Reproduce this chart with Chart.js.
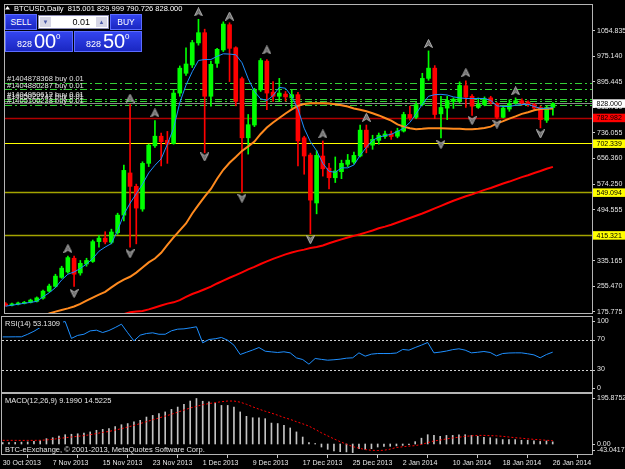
<!DOCTYPE html>
<html>
<head>
<meta charset="utf-8">
<title>BTCUSD,Daily</title>
<script src="https://cdn.jsdelivr.net/npm/chart.js@4.4.1/dist/chart.umd.min.js"></script>
<style>
  html, body { margin: 0; padding: 0; background: #000; }
  body { width: 625px; height: 469px; overflow: hidden; position: relative; font-family: "Liberation Sans", Arial, sans-serif; }
  canvas { position: absolute; left: 0; top: 0; }
  .azul { position: absolute; box-sizing: border-box; color: #fff; background: linear-gradient(#3344ee, #1a27c2); border: 1px solid #5b6cff; }
  #vender, #comprar { top: 14px; width: 32px; height: 16px; font-size: 8.5px; line-height: 14px; text-align: center; }
  #vender { left: 5px; }
  #comprar { left: 110px; }
  #lote { position: absolute; left: 38px; top: 15px; width: 71px; height: 14px; box-sizing: border-box; background: #fff; border: 1px solid #8c8cb4; }
  #lote .seta { position: absolute; top: 1px; width: 11px; height: 10px; background: #d6d6e6; color: #4a5aa8; font-size: 6px; line-height: 10px; text-align: center; }
  #lote .valor { position: absolute; right: 18px; top: 0; font-size: 9px; line-height: 12px; color: #000; }
  .preco { top: 31px; width: 68px; height: 21px; }
  #precoVenda { left: 5px; }
  #precoCompra { left: 74px; }
  .preco span { position: absolute; line-height: 1; }
  .preco .peq { left: 11px; top: 8px; font-size: 9px; }
  .preco .grande { left: 28px; top: -1px; font-size: 20px; }
  .preco .sup { left: 50px; top: 1px; font-size: 8px; }
</style>
</head>
<body>
<canvas id="chartPreco" width="625" height="469"></canvas>
<canvas id="chartRsi" width="625" height="469"></canvas>
<canvas id="chartMacd" width="625" height="469"></canvas>

<div id="vender" class="azul">SELL</div>
<div id="lote"><div class="seta" style="left:1px">&#9660;</div><div class="valor">0.01</div><div class="seta" style="right:1px">&#9650;</div></div>
<div id="comprar" class="azul">BUY</div>
<div id="precoVenda" class="azul preco"><span class="peq">828</span><span class="grande">00</span><span class="sup">0</span></div>
<div id="precoCompra" class="azul preco"><span class="peq">828</span><span class="grande">50</span><span class="sup">0</span></div>

<script>
// velas diarias, 30 Oct 2013 (indice 0) ate 26 Jan 2014 (indice 88)
const abertura = [200,196,199,202,205,208,218,240,255,283,
  300,343,297,325,333,395,406,393,423,478,
  610,568,497,640,695,725,712,702,860,922,
  948,1017,1049,850,953,995,1074,1002,905,720,
  760,870,960,863,850,857,845,855,720,666,
  516,663,625,595,614,637,644,663,744,697,
  712,724,732,725,741,793,784,824,906,938,
  795,813,834,836,883,850,815,824,845,828,
  784,810,829,836,832,824,815,775,815.001];
const maxima = [204,203,206,208,215,222,243,262,293,318,
  350,350,336,343,400,414,426,434,484,635,
  824,575,645,700,774,735,740,870,945,1002,
  1025,1091,1060,960,1000,1083,1080,1005,910,793,
  875,968,965,896,906,865,870,862,725,672,
  680,710,640,660,650,668,675,760,760,728,
  735,741,741,750,800,819,830,922,992,946,
  850,850,845,895,898,855,845,848,850,830,
  818,839,845,842,836,828,820,820,829.999];
const minima = [193,194,197,200,203,206,215,237,252,280,
  296,255,290,318,330,378,388,388,418,460,
  378,388,490,630,690,632,640,700,850,915,
  940,1010,673,819,940,990,896,820,549,669,
  755,865,808,834,834,835,813,632,606,419,
  482,600,560,580,592,630,638,660,673,684,
  700,718,715,720,738,775,780,820,900,780,
  720,777,812,830,815,790,812,820,825,780,
  782,803,825,822,818,806,751,768,790.726];
const fechamento = [196,200,203,205,212,219,240,256,287,312,
  345,293,327,336,395,406,394,425,478,618,
  568,500,640,697,725,708,700,860,938,951,
  1018,1049,850,950,997,1076,1000,834,720,761,
  870,962,860,850,860,848,855,710,663,525,
  665,623,595,616,640,650,665,744,690,715,
  728,732,724,741,793,783,824,906,938,793,
  815,837,841,884,847,819,825,842,831,784,
  813,828,836,829,824,813,777,815,828];

// medias moveis (azul, laranja, vermelha)
const mediaRapida = [193,196,199,202,205,208,222,235,251,275,
  293,300,311,325,342,365,378,389,430,480,
  515,545,575,610,634,654,700,750,830,885,
  927,962,965,965,975,983,982,980,955,905,
  865,842,837,852,878,875,850,810,750,708,
  680,640,615,612,626,626,635,665,690,712,
  722,727,731,740,750,768,795,825,850,855,
  856,854,848,845,843,843,843,843,837,820,
  818,818,822,824,825,818,812,812,815];
const mediaMedia = [null,null,null,null,null,150,160,170,176,181,
  186,192,200,210,220,229,238,252,265,276,
  285,298,314,330,342,360,385,408,430,452,
  483,510,536,560,592,620,642,660,679,693,
  708,732,752,768,782,796,809,820,826,828,
  828,828,827,825,822,818,812,808,803,797,
  790,782,774,762,755,750,747,748,750,750,
  750,749,748,748,747,747,748,751,755,765,
  772,780,787,795,800,806,810,811,812];
const mediaLenta = [null,null,null,null,null,null,null,null,null,null,
  null,null,null,null,null,null,null,null,160,168,
  174,176,178,183,189,195,201,205,212,222,
  231,238,246,254,264,273,282,290,299,308,
  316,325,333,341,348,355,361,366,370,375,
  378,383,390,396,402,408,413,418,424,430,
  437,442,448,455,462,469,476,483,491,499,
  507,515,523,530,537,543,550,557,563,570,
  577,583,590,597,603,610,616,623,629];

// fractais
const setaCimaIdx = [10,20,24,31,36,42,51,58,68,74,82];
const setaCimaVal = [373,844,798,1114,1101,995,732,784,1015,924,867];
const setaBaixoIdx = [11,20,32,38,49,70,75,79,86];
const setaBaixoVal = [233,357,660,531,401,699,774,763,732];

// linhas horizontais e ordens
const niveis = [782.982, 702.339, 549.094, 415.321];
const coresNivel = ['#b00000', '#ffff00', '#a3a300', '#a3a300'];
const fundoNivel = ['#ff0000', '#ffff00', '#ffff00', '#ffff00'];
const precoBid = 828.000;
const ordensPreco = [893.1, 872.3, 842.4, 836.2, 823.8];
const ordensTexto = ['#1404878368 buy 0.01', '#1404880287 buy 0.01', '#1404950612 buy 0.01', '#1405022747 buy 0.01', '#1405160238 buy 0.01'];
const ticksPreco = [1054.835, 975.140, 895.445, 815.750, 736.055, 656.360, 574.250, 494.555, 335.165, 255.470, 175.775];

// indicadores
const rsi = [73.5,73.5,73.6,73.6,77,81,86,88,90,92,
  94,71.5,75.5,77,81.5,82.4,79.3,82,86,90.4,
  79,68.2,75.8,78,78.9,77,77,81.6,83.8,84.2,
  85.5,87,65.6,70,71,72.7,69,62.4,50,53,
  56,59.3,54.4,53.5,52.7,53.6,52.2,45.5,43.3,37.1,
  44.7,43.5,42.4,43,43.8,45.1,45.6,52.2,47.8,50.5,
  51.3,51.3,51.3,52,56.7,55.8,59.3,62.5,66,52.2,
  53.2,54.6,56.5,57.6,55.8,52.2,53,54,52.7,48.2,
  51.3,52,52.2,52.2,51,49.5,45.6,50,53.1309];
const ticksRsi = [100, 70, 30, 0];
const macd = [6,6,7,8,9,11.5,14,23,27,34,
  40,42,44,47,52,59,63,66,75,83,
  88,95,102,116,123,131,138,149,159,171,
  185,195.8752,184,181,176,166,166,159,138,119,
  113,113,109,90,88,80,69,52,30,6,
  2,-13,-23,-30,-33,-34,-37,-20,-23,-20,
  -13,-10,-10,-8,-6,-3,10,25,40,37,
  33,37,37,40,40,37,33,29,27,23,
  19,19,19,16,16,14,11,13,9.199];
const sinal = [15.8,15.8,15.6,15.5,15.5,15.6,16,17.5,20,24,
  27,30,33,36,40,45,50,54,60,66,
  73,80,88,96,104,112,120,128,137,146,
  155,162,169,174,178,182,185,185,180,171,
  160,150,141,133,124,114,106,96,87,77,
  63,48,35,22,10,-1,-11,-18,-24,-27,
  -28,-27,-22,-15,-12,-9,-7,-2,6,13,
  17,22,26,29,33,35,37,37,36,35,
  33,30,27,25,22,20,18,16,14.5225];
const ticksMacd = [195.8752, 0, -43.0417];
const ticksMacdTexto = ['195.8752', '0.00', '-43.0417'];

const datasIdx = [0,8,16,24,32,40,48,56,64,72,80,88];
const datasTexto = ['30 Oct 2013','7 Nov 2013','15 Nov 2013','23 Nov 2013','1 Dec 2013','9 Dec 2013',
  '17 Dec 2013','25 Dec 2013','2 Jan 2014','10 Jan 2014','18 Jan 2014','26 Jan 2014'];

const xMin = -0.112, xMax = 94.288;

Chart.defaults.font.family = '"Liberation Sans", Arial, sans-serif';
Chart.defaults.font.size = 7;
Chart.defaults.color = '#e6e6e6';
Chart.defaults.animation = false;
Chart.defaults.events = [];
Chart.defaults.plugins.legend.display = false;
Chart.defaults.plugins.tooltip.enabled = false;

const corAlta = '#00ff00';
const corBaixa = '#ff0000';
const coresVela = fechamento.map((c, i) => c >= abertura[i] ? corAlta : corBaixa);

function pontos(lista) {
  return lista.map((v, i) => ({ x: i, y: v }));
}

function fazerSeta(paraCima) {
  const c = document.createElement('canvas');
  c.width = 9; c.height = 9;
  const g = c.getContext('2d');
  g.beginPath();
  if (paraCima) {
    g.moveTo(4.5, 0.5); g.lineTo(8.5, 8.5); g.lineTo(4.5, 6); g.lineTo(0.5, 8.5);
  } else {
    g.moveTo(4.5, 8.5); g.lineTo(8.5, 0.5); g.lineTo(4.5, 3); g.lineTo(0.5, 0.5);
  }
  g.closePath();
  g.fillStyle = '#6e6e6e';
  g.fill();
  g.strokeStyle = '#b0b0b0';
  g.lineWidth = 1;
  g.stroke();
  return c;
}

function moldura(ctx, a) {
  ctx.strokeStyle = '#b4b4b4';
  ctx.lineWidth = 1;
  ctx.strokeRect(a.left - 0.5, a.top - 0.5, a.right - a.left + 1, a.bottom - a.top + 1);
}

// rotulos do eixo direito (rsi e macd), presos dentro da janela
function rotulosDireita(ctx, a, escala, valores, textos) {
  ctx.font = '7px "Liberation Sans", Arial, sans-serif';
  ctx.textBaseline = 'middle';
  ctx.textAlign = 'left';
  valores.forEach((v, k) => {
    const py = escala.getPixelForValue(v);
    const ty = Math.min(Math.max(py, a.top + 4), a.bottom - 4);
    ctx.strokeStyle = '#c8c8c8';
    ctx.beginPath();
    ctx.moveTo(a.right, Math.round(ty) + 0.5);
    ctx.lineTo(a.right + 3, Math.round(ty) + 0.5);
    ctx.stroke();
    ctx.fillStyle = '#e6e6e6';
    ctx.fillText(textos[k], a.right + 5, ty);
  });
}

function caixaPreco(ctx, py, x, texto, fundo) {
  ctx.fillStyle = fundo;
  ctx.fillRect(x, py - 4, 33, 8.5);
  ctx.fillStyle = '#000';
  ctx.textBaseline = 'middle';
  ctx.textAlign = 'left';
  ctx.fillText(texto, x + 3.5, py + 0.5);
}

const desenhoPreco = {
  id: 'desenhoPreco',
  beforeDatasetsDraw(chart) {
    const { ctx, chartArea: a, scales: { y } } = chart;
    ctx.save();
    niveis.forEach((nivel, k) => {
      const py = Math.round(y.getPixelForValue(nivel)) + 0.5;
      ctx.strokeStyle = coresNivel[k];
      ctx.lineWidth = k === 1 ? 1 : 1.5;
      ctx.beginPath(); ctx.moveTo(a.left, py); ctx.lineTo(a.right, py); ctx.stroke();
    });
    ctx.setLineDash([7, 3, 2, 3]);
    ctx.strokeStyle = '#35d035';
    ctx.lineWidth = 1;
    ordensPreco.forEach((p) => {
      const py = Math.round(y.getPixelForValue(p)) + 0.5;
      ctx.beginPath(); ctx.moveTo(a.left, py); ctx.lineTo(a.right, py); ctx.stroke();
    });
    ctx.setLineDash([]);
    const pb = Math.round(y.getPixelForValue(precoBid)) + 0.5;
    ctx.strokeStyle = '#8a8a8a';
    ctx.beginPath(); ctx.moveTo(a.left, pb); ctx.lineTo(a.right, pb); ctx.stroke();
    ctx.restore();
  },
  afterDraw(chart) {
    const { ctx, chartArea: a, scales: { y } } = chart;
    ctx.save();
    moldura(ctx, a);
    ctx.font = '7.5px "Liberation Sans", Arial, sans-serif';
    ctx.textAlign = 'left';
    ctx.textBaseline = 'alphabetic';
    ctx.fillStyle = '#e0e0e0';
    ordensPreco.forEach((p, k) => {
      ctx.fillText(ordensTexto[k], 7, y.getPixelForValue(p) - 1.5);
    });
    // cabecalho
    const u = abertura.length - 1;
    ctx.fillStyle = '#ffffff';
    ctx.fillText('BTCUSD,Daily  ' + [abertura[u], maxima[u], minima[u], fechamento[u]].map(v => v.toFixed(3)).join(' '), 14, 10.5);
    ctx.beginPath(); ctx.moveTo(5, 9.5); ctx.lineTo(7.5, 6); ctx.lineTo(10, 9.5); ctx.closePath(); ctx.fill();
    // caixas de preco no eixo
    ctx.font = '7px "Liberation Sans", Arial, sans-serif';
    caixaPreco(ctx, y.getPixelForValue(precoBid), a.right + 1, precoBid.toFixed(3), '#ffffff');
    niveis.forEach((nivel, k) => {
      caixaPreco(ctx, y.getPixelForValue(nivel), a.right + 1, nivel.toFixed(3), fundoNivel[k]);
    });
    ctx.restore();
  }
};

new Chart(document.getElementById('chartPreco'), {
  type: 'bar',
  data: {
    datasets: [
      { type: 'scatter', data: setaCimaIdx.map((v, k) => ({ x: v, y: setaCimaVal[k] })), pointStyle: fazerSeta(true), order: 0 },
      { type: 'scatter', data: setaBaixoIdx.map((v, k) => ({ x: v, y: setaBaixoVal[k] })), pointStyle: fazerSeta(false), order: 0 },
      { type: 'line', data: pontos(mediaRapida), borderColor: '#1e8fff', borderWidth: 1, pointRadius: 0, order: 1 },
      { type: 'line', data: pontos(mediaMedia), borderColor: '#ff8a1e', borderWidth: 2, pointRadius: 0, order: 2 },
      { type: 'line', data: pontos(mediaLenta), borderColor: '#ff0000', borderWidth: 2, pointRadius: 0, order: 3 },
      { data: abertura.map((v, i) => ({ x: i, y: [v, fechamento[i]] })), backgroundColor: coresVela, barThickness: 4, minBarLength: 1, grouped: false, order: 4 },
      { data: minima.map((v, i) => ({ x: i, y: [v, maxima[i]] })), backgroundColor: coresVela, barThickness: 1, grouped: false, order: 5 }
    ]
  },
  options: {
    responsive: false,
    maintainAspectRatio: false,
    layout: { padding: { left: 2, right: 0, top: 3, bottom: 156 } },
    scales: {
      x: { type: 'linear', min: xMin, max: xMax, offset: false, display: false },
      y: {
        type: 'linear',
        position: 'right',
        min: 171.6,
        max: 1135.7,
        afterBuildTicks: (eixo) => { eixo.ticks = ticksPreco.map(v => ({ value: v })); },
        afterFit: (eixo) => { eixo.width = 33; eixo.paddingTop = 0; eixo.paddingBottom = 0; },
        ticks: { autoSkip: false, padding: 2, color: '#e6e6e6', font: { size: 7 }, callback: (v) => Number(v).toFixed(3) },
        grid: { drawOnChartArea: false, tickLength: 3, color: '#c8c8c8' },
        border: { display: false }
      }
    }
  },
  plugins: [desenhoPreco]
});

const desenhoRsi = {
  id: 'desenhoRsi',
  beforeDatasetsDraw(chart) {
    const { ctx, chartArea: a, scales: { y } } = chart;
    ctx.save();
    ctx.setLineDash([2, 2]);
    ctx.strokeStyle = '#d0d0d0';
    ctx.lineWidth = 1;
    [70, 30].forEach((v) => {
      const py = Math.round(y.getPixelForValue(v)) + 0.5;
      ctx.beginPath(); ctx.moveTo(a.left, py); ctx.lineTo(a.right, py); ctx.stroke();
    });
    ctx.restore();
  },
  afterDraw(chart) {
    const { ctx, chartArea: a, scales: { y } } = chart;
    ctx.save();
    moldura(ctx, a);
    rotulosDireita(ctx, a, y, ticksRsi, ticksRsi.map(String));
    ctx.font = '7.5px "Liberation Sans", Arial, sans-serif';
    const txt = 'RSI(14) ' + rsi[rsi.length - 1].toFixed(4);
    ctx.fillStyle = '#000';
    ctx.fillRect(a.left + 2, a.top + 2, ctx.measureText(txt).width + 4, 9);
    ctx.fillStyle = '#e6e6e6';
    ctx.textAlign = 'left';
    ctx.textBaseline = 'alphabetic';
    ctx.fillText(txt, a.left + 3, a.top + 9);
    ctx.restore();
  }
};

new Chart(document.getElementById('chartRsi'), {
  type: 'line',
  data: {
    datasets: [
      { data: pontos(rsi), borderColor: '#1e8fff', borderWidth: 1, pointRadius: 0 }
    ]
  },
  options: {
    responsive: false,
    maintainAspectRatio: false,
    layout: { padding: { left: 2, right: 33, top: 317, bottom: 77 } },
    scales: {
      x: { type: 'linear', min: xMin, max: xMax, offset: false, display: false },
      y: { type: 'linear', min: 0, max: 100, display: false }
    }
  },
  plugins: [desenhoRsi]
});

const desenhoMacd = {
  id: 'desenhoMacd',
  afterDraw(chart) {
    const { ctx, chartArea: a, scales: { y } } = chart;
    ctx.save();
    moldura(ctx, a);
    rotulosDireita(ctx, a, y, ticksMacd, ticksMacdTexto);
    ctx.font = '7.5px "Liberation Sans", Arial, sans-serif';
    ctx.fillStyle = '#e6e6e6';
    ctx.textAlign = 'left';
    ctx.textBaseline = 'alphabetic';
    ctx.fillText('MACD(12,26,9) ' + macd[macd.length - 1].toFixed(4) + ' ' + sinal[sinal.length - 1].toFixed(4), a.left + 3, a.top + 9);
    ctx.fillText('BTC-eExchange, \u00a9 2001-2013, MetaQuotes Software Corp.', a.left + 3, a.bottom - 2);
    ctx.restore();
  }
};

new Chart(document.getElementById('chartMacd'), {
  type: 'bar',
  data: {
    datasets: [
      { type: 'line', data: pontos(sinal), borderColor: '#ff0000', borderWidth: 1, borderDash: [2, 2], pointRadius: 0, order: 0 },
      { data: pontos(macd), backgroundColor: '#c4c4c4', barThickness: 1, order: 1 }
    ]
  },
  options: {
    responsive: false,
    maintainAspectRatio: false,
    layout: { padding: { left: 2, right: 33, top: 394, bottom: 0 } },
    scales: {
      x: {
        type: 'linear',
        min: xMin,
        max: xMax,
        offset: false,
        afterBuildTicks: (eixo) => { eixo.ticks = datasIdx.map(v => ({ value: v })); },
        afterFit: (eixo) => { eixo.height = 15; eixo.paddingLeft = 0; eixo.paddingRight = 0; },
        ticks: { autoSkip: false, maxRotation: 0, minRotation: 0, align: 'start', padding: 1, color: '#e6e6e6', font: { size: 7 },
                 callback: (v, i) => datasTexto[i] },
        grid: { drawOnChartArea: false, tickLength: 4, color: '#c8c8c8' },
        border: { display: false }
      },
      y: { type: 'linear', min: -43.0417, max: 215.2, display: false }
    }
  },
  plugins: [desenhoMacd]
});
</script>
</body>
</html>
